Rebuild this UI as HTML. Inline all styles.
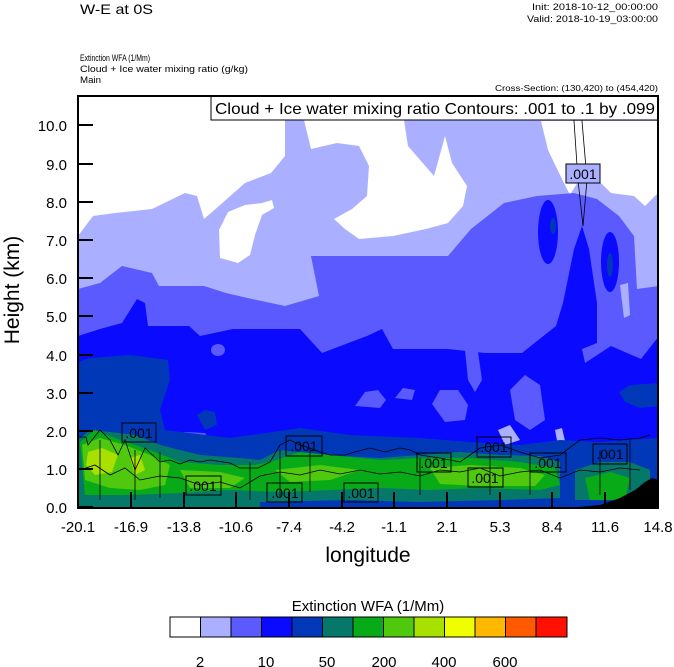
<!DOCTYPE html>
<html><head><meta charset="utf-8"><style>
html,body{margin:0;padding:0;background:#fff;}
svg{display:block;font-family:"Liberation Sans",Arial,sans-serif;}
</style></head><body>
<svg width="674" height="667" viewBox="0 0 674 667" xmlns="http://www.w3.org/2000/svg">
<defs><clipPath id="pc"><rect x="78" y="96" width="580" height="412"/></clipPath></defs>
<text x="80" y="14" font-size="14" textLength="73" lengthAdjust="spacingAndGlyphs">W-E at 0S</text>
<text x="658" y="10" font-size="9.5" text-anchor="end" textLength="126" lengthAdjust="spacingAndGlyphs">Init: 2018-10-12_00:00:00</text>
<text x="658" y="22" font-size="9.5" text-anchor="end" textLength="131" lengthAdjust="spacingAndGlyphs">Valid: 2018-10-19_03:00:00</text>
<text x="80" y="61" font-size="9.5" textLength="70" lengthAdjust="spacingAndGlyphs">Extinction WFA   (1/Mm)</text>
<text x="80" y="72" font-size="9.5" textLength="168" lengthAdjust="spacingAndGlyphs">Cloud + Ice water mixing ratio    (g/kg)</text>
<text x="80" y="83" font-size="9.5" textLength="21" lengthAdjust="spacingAndGlyphs">Main</text>
<text x="658" y="91" font-size="8.5" text-anchor="end" textLength="163" lengthAdjust="spacingAndGlyphs">Cross-Section: (130,420) to (454,420)</text>

<g clip-path="url(#pc)">
<rect x="78" y="96" width="580" height="412" fill="#aab0ff"/>
<path fill="#fff" d="M78,96 L78,236 L93,216 L115,213 L152,209 L185,193 L197,196 L204,219 L219,206 L245,183 L271,173 L285,156 L285,120 L304,120 L311,149 L337,143 L359,146 L369,166 L367,196 L352,209 L334,219 L345,229 L359,239 L393,236 L426,229 L448,223 L463,206 L467,186 L452,163 L445,136 L434,176 L408,146 L404,120 L404,96 Z"/>
<path fill="#fff" d="M220,258 L219,230 L228,212 L245,205 L262,203 L272,200 L274,208 L262,215 L255,235 L250,255 L238,263 Z"/>
<path fill="#fff" d="M541,121 L548,150 L560,175 L570,195 L582,175 L597,179 L611,193 L634,196 L645,206 L658,193 L658,121 Z"/>
<path fill="#5a5aff" d="M78,289 L100,283 L122,266 L152,273 L159,286 L204,286 L226,293 L252,299 L285,306 L319,296 L311,256 L374,256 L448,256 L471,229 L504,203 L537,196 L574,193 L597,199 L619,216 L634,236 L637,289 L659,286 L659,508 L78,508 Z"/>
<path fill="#aab0ff" d="M620,285 L628,283 L630,315 L624,318 Z"/>
<path fill="#0a0aff" d="M78,336 L100,329 L122,323 L137,299 L145,303 L148,326 L189,326 L200,336 L233,329 L300,329 L322,353 L367,336 L382,329 L393,349 L448,349 L485,353 L522,353 L556,326 L563,303 L574,249 L582,226 L589,249 L597,303 L597,343 L582,349 L585,363 L611,346 L641,359 L659,336 L659,508 L78,508 Z"/>
<ellipse cx="548" cy="232" rx="10" ry="32" fill="#0a0aff"/>
<ellipse cx="610" cy="262" rx="9" ry="30" fill="#0a0aff"/>
<ellipse cx="553" cy="226" rx="3" ry="8" fill="#0038b8"/>
<ellipse cx="610" cy="265" rx="3" ry="12" fill="#0038b8"/>
<ellipse cx="218" cy="350" rx="7" ry="6" fill="#5a5aff"/>
<path fill="#5a5aff" d="M355,406 L365,392 L378,390 L386,400 L380,408 Z"/>
<path fill="#5a5aff" d="M395,398 L403,388 L415,390 L412,400 Z"/>
<path fill="#5a5aff" d="M432,404 L440,390 L458,390 L468,405 L465,420 L445,422 Z"/>
<path fill="#5a5aff" d="M465,350 L478,352 L482,380 L475,392 L468,380 Z"/>
<path fill="#5a5aff" d="M510,390 L525,375 L540,385 L545,420 L530,430 L515,420 Z"/>
<path fill="#5a5aff" d="M165,435 L185,432 L205,433 L210,440 L190,446 L170,443 Z"/>
<path fill="#aab0ff" d="M498,430 L510,425 L520,440 L505,445 Z"/>
<path fill="#aab0ff" d="M555,430 L562,428 L566,445 L558,446 Z"/>
<path fill="#0038b8" d="M78,362 L90,358 L130,355 L168,360 L170,380 L160,410 L165,430 L230,438 L300,428 L350,435 L420,438 L470,442 L520,445 L560,440 L600,442 L659,438 L659,508 L78,508 Z"/>
<path fill="#0038b8" d="M619,392 L630,385 L659,383 L659,406 L640,408 L625,402 Z"/>
<path fill="#0038b8" d="M197,415 L205,410 L215,412 L217,425 L205,430 Z"/>
<path fill="#06786a" d="M78,440 L90,430 L110,432 L135,435 L160,445 L200,455 L240,458 L260,460 L280,450 L320,455 L380,458 L420,455 L460,452 L500,455 L540,456 L560,462 L560,508 L78,508 Z"/>
<path fill="#06786a" d="M575,470 L600,462 L630,462 L650,470 L650,500 L575,500 Z"/>
<path fill="#08aa18" d="M80,442 L95,430 L120,440 L150,450 L180,462 L220,465 L255,465 L270,462 L300,452 L340,456 L380,460 L420,458 L470,458 L520,462 L555,468 L560,485 L540,490 L480,488 L430,490 L380,488 L330,490 L280,492 L230,490 L180,493 L130,495 L85,495 Z"/>
<path fill="#08aa18" d="M585,478 L610,472 L630,478 L625,500 L590,500 Z"/>
<path fill="#50c80e" d="M82,445 L100,438 L125,445 L150,455 L170,465 L165,485 L140,490 L110,488 L85,480 Z"/>
<path fill="#50c80e" d="M180,470 L220,472 L245,478 L230,488 L190,488 Z"/>
<path fill="#50c80e" d="M275,470 L320,465 L360,470 L330,480 L290,482 Z"/>
<path fill="#50c80e" d="M430,468 L470,465 L520,468 L545,475 L535,486 L480,486 L440,484 Z"/>
<path fill="#a8e000" d="M88,452 L102,448 L118,455 L112,472 L95,475 L86,465 Z"/>
<path fill="#a8e000" d="M130,458 L140,455 L145,470 L135,475 Z"/>
<path fill="#0038b8" d="M260,502 L350,500 L420,502 L500,500 L560,498 L560,508 L260,508 Z"/>
<path fill="#000" d="M568,508 L600,505 L620,498 L635,490 L645,482 L652,478 L658,480 L658,508 Z"/>
<g fill="none" stroke="#000" stroke-width="0.8">
<path d="M574,96 L574,121 L578,180 L583,226 L587,180 L582,121 L581,96"/>
<path d="M78,437 L86,437 L88,445 L100,430 L110,440 L118,455 L125,440 L135,470 L145,448 L160,462 L170,460 L180,464 L190,460 L200,462 L210,460 L230,463 L240,468 L258,468 L270,462 L280,445 L290,440 L300,445 L310,448 L320,452 L330,455 L345,455 L355,452 L370,448 L385,452 L400,448 L410,450 L420,455 L440,458 L460,462 L480,448 L500,445 L520,452 L540,458 L560,455 L580,440 L600,438 L620,440 L640,438 L650,435"/>
<path d="M80,470 L95,465 L110,475 L125,468 L140,480 L160,476 L180,478 L200,485 L220,482 L240,488 L260,476 L280,472 L300,475 L320,470 L340,474 L360,470 L380,474 L400,472 L420,476 L440,470 L460,472 L480,468 L500,476 L520,472 L540,470 L560,478 L580,470 L600,472 L620,468 L640,470"/>
<path d="M100,440 L100,500 M135,450 L135,500 M160,452 L160,498 M250,462 L250,500 M280,450 L280,498 M310,448 L310,492 M420,458 L420,495 M490,452 L490,495 M530,458 L530,495 M600,450 L600,495 M630,440 L630,490"/>
</g>
<g font-size="14" text-anchor="middle">
<rect x="122" y="423" width="34" height="19" fill="none" stroke="#000"/><text x="139" y="438">.001</text>
<rect x="186" y="476" width="35" height="19" fill="none" stroke="#000"/><text x="203" y="491">.001</text>
<rect x="286" y="436" width="36" height="20" fill="none" stroke="#000"/><text x="304" y="451">.001</text>
<rect x="267" y="483" width="35" height="19" fill="none" stroke="#000"/><text x="285" y="498">.001</text>
<rect x="344" y="483" width="34" height="19" fill="none" stroke="#000"/><text x="361" y="498">.001</text>
<rect x="417" y="453" width="34" height="19" fill="none" stroke="#000"/><text x="434" y="468">.001</text>
<rect x="477" y="437" width="34" height="20" fill="none" stroke="#000"/><text x="494" y="452">.001</text>
<rect x="468" y="468" width="35" height="19" fill="none" stroke="#000"/><text x="485" y="483">.001</text>
<rect x="530" y="453" width="36" height="19" fill="none" stroke="#000"/><text x="548" y="468">.001</text>
<rect x="593" y="444" width="34" height="20" fill="none" stroke="#000"/><text x="610" y="459">.001</text>
<rect x="566" y="164" width="34" height="19" fill="#aab0ff" stroke="#000"/><text x="583" y="179">.001</text>
</g>
</g>
<rect x="211" y="96" width="447" height="24" fill="#fff" stroke="#000" stroke-width="1"/>
<text x="215" y="114" font-size="16" textLength="440" lengthAdjust="spacingAndGlyphs">Cloud + Ice water mixing ratio Contours: .001 to .1 by .099</text>
<rect x="78" y="96" width="580" height="412" fill="none" stroke="#000" stroke-width="2"/>
<g stroke="#000" stroke-width="2">
<line x1="78" y1="507" x2="93" y2="507"/><line x1="78" y1="469" x2="93" y2="469"/><line x1="78" y1="431" x2="93" y2="431"/><line x1="78" y1="393" x2="93" y2="393"/><line x1="78" y1="355" x2="93" y2="355"/><line x1="78" y1="316" x2="93" y2="316"/><line x1="78" y1="278" x2="93" y2="278"/><line x1="78" y1="240" x2="93" y2="240"/><line x1="78" y1="202" x2="93" y2="202"/><line x1="78" y1="164" x2="93" y2="164"/><line x1="78" y1="125" x2="93" y2="125"/>
<line x1="131" y1="508" x2="131" y2="492"/><line x1="184" y1="508" x2="184" y2="492"/><line x1="236" y1="508" x2="236" y2="492"/><line x1="289" y1="508" x2="289" y2="492"/><line x1="342" y1="508" x2="342" y2="492"/><line x1="394" y1="508" x2="394" y2="492"/><line x1="447" y1="508" x2="447" y2="492"/><line x1="500" y1="508" x2="500" y2="492"/><line x1="552" y1="508" x2="552" y2="492"/><line x1="605" y1="508" x2="605" y2="492"/>
</g>
<g font-size="15" text-anchor="end">
<text x="67" y="513">0.0</text><text x="67" y="475">1.0</text><text x="67" y="437">2.0</text><text x="67" y="399">3.0</text><text x="67" y="361">4.0</text><text x="67" y="322">5.0</text><text x="67" y="284">6.0</text><text x="67" y="246">7.0</text><text x="67" y="208">8.0</text><text x="67" y="170">9.0</text><text x="67" y="131">10.0</text>
</g>
<g font-size="15" text-anchor="middle">
<text x="78" y="532">-20.1</text><text x="131" y="532">-16.9</text><text x="184" y="532">-13.8</text><text x="236" y="532">-10.6</text><text x="289" y="532">-7.4</text><text x="342" y="532">-4.2</text><text x="394" y="532">-1.1</text><text x="447" y="532">2.1</text><text x="500" y="532">5.3</text><text x="552" y="532">8.4</text><text x="605" y="532">11.6</text><text x="658" y="532">14.8</text>
</g>
<text x="368" y="562" font-size="21" text-anchor="middle">longitude</text>
<text transform="translate(19,290) rotate(-90)" font-size="21" text-anchor="middle">Height (km)</text>
<text x="368" y="611" font-size="15" text-anchor="middle">Extinction WFA  (1/Mm)</text>
<g stroke="#000" stroke-width="1">
<rect x="170" y="617" width="30.5" height="20" fill="#ffffff"/>
<rect x="200.5" y="617" width="30.5" height="20" fill="#aab0ff"/>
<rect x="231" y="617" width="30.5" height="20" fill="#5a5aff"/>
<rect x="261.5" y="617" width="30.5" height="20" fill="#0a0aff"/>
<rect x="292" y="617" width="30.5" height="20" fill="#0038b8"/>
<rect x="322.5" y="617" width="30.5" height="20" fill="#06786a"/>
<rect x="353" y="617" width="30.5" height="20" fill="#08aa18"/>
<rect x="383.5" y="617" width="30.5" height="20" fill="#50c80e"/>
<rect x="414" y="617" width="30.5" height="20" fill="#a8e000"/>
<rect x="444.5" y="617" width="30.5" height="20" fill="#f0ff00"/>
<rect x="475" y="617" width="30.5" height="20" fill="#ffb800"/>
<rect x="505.5" y="617" width="30.5" height="20" fill="#ff5a00"/>
<rect x="536" y="617" width="31" height="20" fill="#ff1000"/>
</g>
<g font-size="15" text-anchor="middle">
<text x="200" y="667">2</text><text x="266" y="667">10</text><text x="327" y="667">50</text><text x="384" y="667">200</text><text x="444" y="667">400</text><text x="505" y="667">600</text>
</g>
</svg>
</body></html>
